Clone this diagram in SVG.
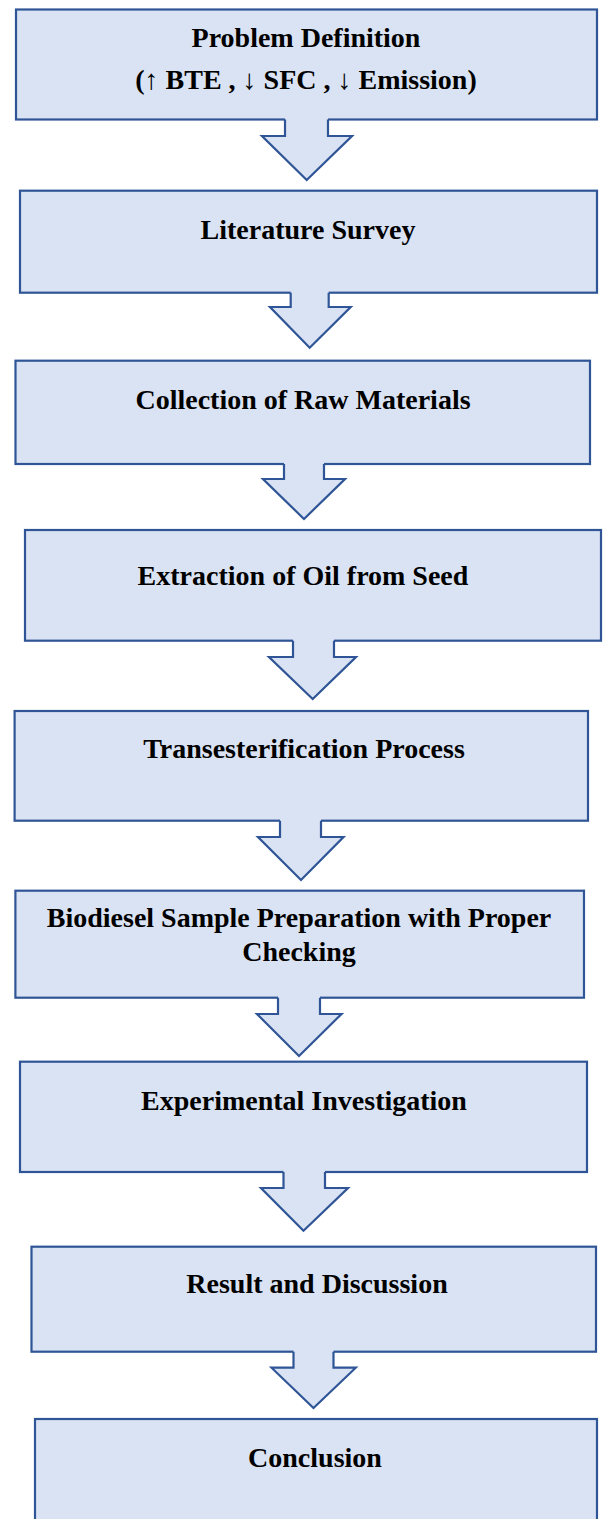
<svg xmlns="http://www.w3.org/2000/svg" width="605" height="1519" viewBox="0 0 605 1519">
<style>
.box{fill:#DAE3F3;stroke:#2F5597;stroke-width:2.2}
.af{fill:#DAE3F3;stroke:none}
.ao{fill:none;stroke:#2F5597;stroke-width:2.2;stroke-linejoin:miter}
.t{font-family:"Liberation Serif","DejaVu Serif",serif;font-weight:bold;font-size:28px;fill:#000;text-anchor:middle}
</style>
<rect width="605" height="1519" fill="#fff"/>
<g id="n1"><rect class="box" x="16" y="9.5" width="581" height="110"/>
<text class="t" x="306" y="46.5">Problem Definition</text>
<text class="t" x="306" y="88.5">(↑ BTE , ↓ SFC , ↓ Emission)</text></g>
<g id="n2"><rect class="box" x="20" y="190.7" width="577" height="102"/>
<text class="t" x="308" y="239">Literature Survey</text></g>
<g id="n3"><rect class="box" x="15.5" y="360.7" width="574.5" height="103.3"/>
<text class="t" x="303" y="409">Collection of Raw Materials</text></g>
<g id="n4"><rect class="box" x="25" y="530" width="576" height="110.7"/>
<text class="t" x="303" y="585">Extraction of Oil from Seed</text></g>
<g id="n5"><rect class="box" x="14.6" y="711" width="573.4" height="109.7"/>
<text class="t" x="304" y="758">Transesterification Process</text></g>
<g id="n6"><rect class="box" x="15.4" y="890.7" width="568.6" height="107"/>
<text class="t" x="299" y="926.5">Biodiesel Sample Preparation with Proper</text>
<text class="t" x="299" y="961">Checking</text></g>
<g id="n7"><rect class="box" x="20" y="1061.7" width="567" height="110.3"/>
<text class="t" x="304" y="1110">Experimental Investigation</text></g>
<g id="n8"><rect class="box" x="31.5" y="1246.7" width="564.5" height="105"/>
<text class="t" x="317" y="1293">Result and Discussion</text></g>
<g id="n9"><rect class="box" x="35" y="1419" width="562" height="115"/>
<text class="t" x="315" y="1466.5">Conclusion</text></g>
<g id="connectors">
<g id="a1"><polygon class="af" points="285,117.5 328,117.5 328,136 352,136 306.7,180 262,136 285,136"/><polyline class="ao" points="285,119.5 285,136 262,136 306.7,180 352,136 328,136 328,119.5"/></g>
<g id="a2"><polygon class="af" points="290.7,290.7 328.7,290.7 328.7,307 350.7,307 309.7,347.7 270,307 290.7,307"/><polyline class="ao" points="290.7,292.7 290.7,307 270,307 309.7,347.7 350.7,307 328.7,307 328.7,292.7"/></g>
<g id="a3"><polygon class="af" points="284,462 324,462 324,479 345,479 304,519 263,479 284,479"/><polyline class="ao" points="284,464 284,479 263,479 304,519 345,479 324,479 324,464"/></g>
<g id="a4"><polygon class="af" points="293,638.7 334,638.7 334,657 356,657 312.7,699 269,657 293,657"/><polyline class="ao" points="293,640.7 293,657 269,657 312.7,699 356,657 334,657 334,640.7"/></g>
<g id="a5"><polygon class="af" points="280,818.7 321,818.7 321,837 343.5,837 301,880 258,837 280,837"/><polyline class="ao" points="280,820.7 280,837 258,837 301,880 343.5,837 321,837 321,820.7"/></g>
<g id="a6"><polygon class="af" points="278,995.7 320,995.7 320,1014 341.5,1014 299,1056 257,1014 278,1014"/><polyline class="ao" points="278,997.7 278,1014 257,1014 299,1056 341.5,1014 320,1014 320,997.7"/></g>
<g id="a7"><polygon class="af" points="283.5,1170 325,1170 325,1188 348,1188 303.5,1230.7 261,1188 283.5,1188"/><polyline class="ao" points="283.5,1172 283.5,1188 261,1188 303.5,1230.7 348,1188 325,1188 325,1172"/></g>
<g id="a8"><polygon class="af" points="293.5,1349.7 333.5,1349.7 333.5,1367.7 355.8,1367.7 313.5,1408 271.5,1367.7 293.5,1367.7"/><polyline class="ao" points="293.5,1351.7 293.5,1367.7 271.5,1367.7 313.5,1408 355.8,1367.7 333.5,1367.7 333.5,1351.7"/></g>
</g>
</svg>
